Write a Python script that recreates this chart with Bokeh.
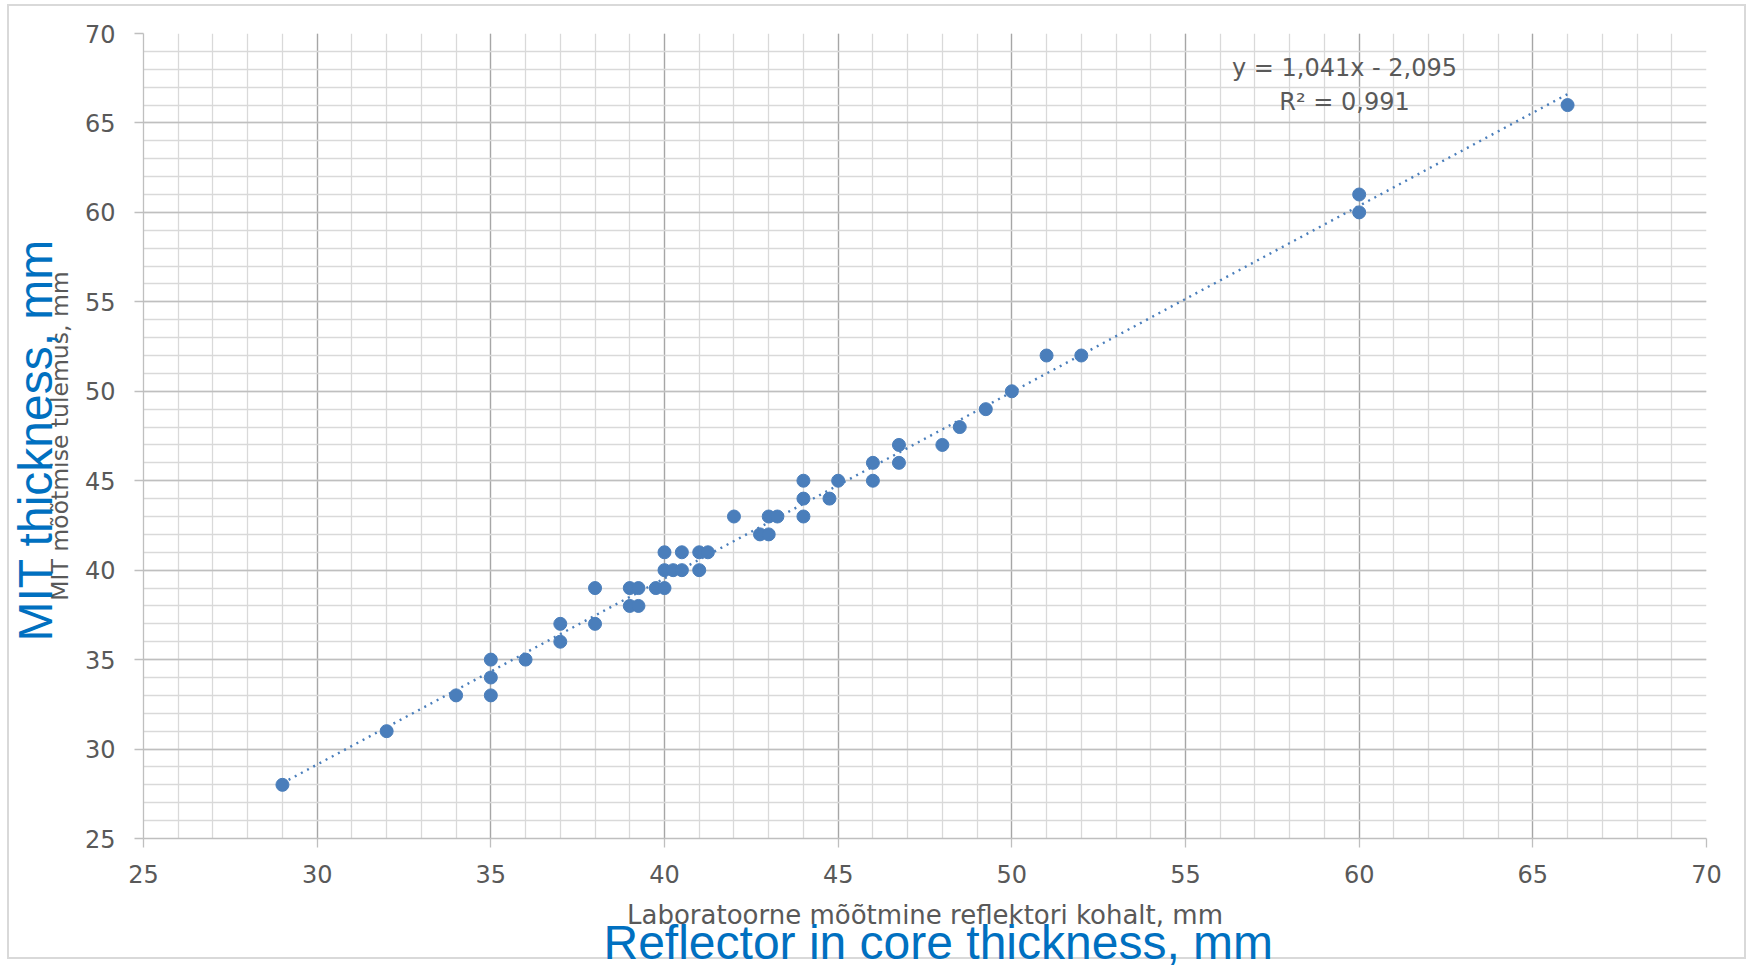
import numpy as np
from bokeh.plotting import figure
from bokeh.models import Range1d, SingleIntervalTicker, Label, Title
from bokeh.embed import file_html
from bokeh.resources import INLINE

# ---- data ----
lab_mm = [29, 32, 34, 35, 35, 35, 36, 37, 37, 38, 38, 39, 39, 39.25, 39.25, 39.75,
          40, 40, 40, 40.25, 40.5, 40.5, 41, 41, 41.25, 42, 42.75, 43, 43, 43.25,
          44, 44, 44, 44.75, 45, 46, 46, 46.75, 46.75, 48, 48.5, 49.25, 50, 51, 52,
          60, 60, 66]
mit_mm = [28, 31, 33, 35, 34, 33, 35, 37, 36, 39, 37, 39, 38, 39, 38, 39,
          39, 41, 40, 40, 41, 40, 41, 40, 41, 43, 42, 42, 43, 43,
          45, 44, 43, 44, 45, 46, 45, 47, 46, 47, 48, 49, 50, 52, 52,
          61, 60, 66]
trend_slope = 1.041
trend_intercept = -2.095
trend_r2 = 0.991

x_title_et = "Laboratoorne mõõtmine reflektori kohalt, mm"
y_title_et = "MIT mõõtmise tulemus, mm"
x_title_en = "Reflector in core thickness, mm"
y_title_en = "MIT thickness, mm"

# ---- layout ----
W, H = 1748, 971
L, R, T, B = 143, 1706, 33, 838
X0, X1, Y0, Y1 = 25, 70, 25, 70


def dx(px):
    return X0 + (px - L) * (X1 - X0) / (R - L)


def dy(py):
    return Y0 + (B - py) * (Y1 - Y0) / (B - T)


p = figure(width=W, height=H, x_range=Range1d(X0, X1), y_range=Range1d(Y0, Y1),
           output_backend="svg", toolbar_location=None,
           min_border_left=L, min_border_right=W - R,
           min_border_top=T, min_border_bottom=H - B)
p.background_fill_color = "white"
p.border_fill_color = None
p.outline_line_color = None
# light-grey outer chart border, drawn behind the transparent border area
_bc = "linear-gradient(#d9d9d9,#d9d9d9)"
p.styles = {
    "background": (
        f"{_bc} 8px 4px / 1738px 2px no-repeat, "
        f"{_bc} 8px 957px / 1738px 2px no-repeat, "
        f"{_bc} 7px 4px / 2px 955px no-repeat, "
        f"{_bc} 1744px 4px / 2px 955px no-repeat, white"
    )
}

for ax in (p.xaxis[0], p.yaxis[0]):
    ax.ticker = SingleIntervalTicker(interval=5, num_minor_ticks=5)
    ax.axis_line_color = "#bfbfbf"
    ax.axis_line_width = 1.3
    ax.major_tick_line_color = "#bfbfbf"
    ax.major_tick_line_width = 1.3
    ax.major_tick_out = 9
    ax.major_tick_in = 0
    ax.minor_tick_line_color = None
    ax.major_label_text_font = "DejaVu Sans"
    ax.major_label_text_font_size = "24px"
    ax.major_label_text_color = "#595959"
    ax.axis_label_text_font = "DejaVu Sans"
    ax.axis_label_text_font_style = "normal"
    ax.axis_label_text_color = "#595959"
p.xaxis.axis_label_text_font_size = "26px"
p.yaxis.axis_label_text_font_size = "23.5px"
p.xaxis.major_label_standoff = 17
p.yaxis.major_label_standoff = 19
p.xaxis.axis_label = x_title_et
p.yaxis.axis_label = y_title_et
p.xaxis.axis_label_standoff = 14
p.yaxis.axis_label_standoff = 8

p.xgrid.ticker = p.xaxis[0].ticker
p.ygrid.ticker = p.yaxis[0].ticker
p.xgrid.grid_line_color = "#a6a6a6"
p.xgrid.grid_line_width = 1.3
p.xgrid.minor_grid_line_color = "#d9d9d9"
p.xgrid.minor_grid_line_width = 1.3
p.ygrid.grid_line_color = "#bfbfbf"
p.ygrid.grid_line_width = 1.3
p.ygrid.minor_grid_line_color = "#d9d9d9"
p.ygrid.minor_grid_line_width = 1.3

# trendline
tx = np.array([min(lab_mm), max(lab_mm)], dtype=float)
ty = trend_slope * tx + trend_intercept
p.line(tx, ty, line_color="#4a7ebb", line_width=2.4, line_dash="2 5")

p.scatter(lab_mm, mit_mm, size=13, fill_color="#4a7ebb", line_color="#4a7ebb")

eq1 = "y = {:.3f}x - {:.3f}".format(trend_slope, abs(trend_intercept)).replace(".", ",")
eq2 = "R\u00b2 = {:.3f}".format(trend_r2).replace(".", ",")
for txt, py in ((eq1, 67), (eq2, 101)):
    p.add_layout(Label(x=dx(1344), y=dy(py), text=txt, text_align="center",
                       text_baseline="alphabetic", text_font="DejaVu Sans",
                       text_font_size="24px", text_color="#595959"))

# blue English titles as outer titles
p.add_layout(Title(text=x_title_en, align="left", offset=460, standoff=-38,
                   text_font="Liberation Sans", text_font_size="48px",
                   text_font_style="normal", text_color="#0070C0"), "below")
p.add_layout(Title(text=y_title_en, align="left", offset=197, standoff=-39,
                   text_font="Liberation Sans", text_font_size="48px",
                   text_font_style="normal", text_color="#0070C0"), "left")

open("out.html", "w").write(file_html(p, INLINE))
